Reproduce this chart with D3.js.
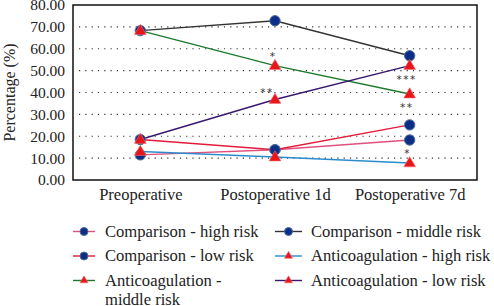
<!DOCTYPE html>
<html><head><meta charset="utf-8">
<script src="https://cdn.jsdelivr.net/npm/d3@7"></script>
<style>body{margin:0;background:#fff}svg{display:block}</style>
</head><body><svg id="c" width="494" height="306"></svg>
<script>
const categories = ["Preoperative", "Postoperative 1d", "Postoperative 7d"];
const yTicks = [0, 10, 20, 30, 40, 50, 60, 70, 80];
const seriesNames = ["Comparison - high risk", "Comparison - middle risk", "Comparison - low risk",
  "Anticoagulation - high risk", "Anticoagulation - middle risk", "Anticoagulation - low risk"];
const compHigh = [11.5, 13.8, 18.3];
const compMiddle = [68.3, 72.8, 56.8];
const compLow = [18.5, 13.8, 25.2];
const antiHigh = [13.0, 10.5, 7.8];
const antiMiddle = [68.3, 52.3, 39.3];
const antiLow = [18.5, 36.8, 52.3];
const annotations = [
  {cat: 1, value: 52.3, text: "*", pos: "above"},
  {cat: 1, value: 36.8, text: "**", pos: "aboveLeft"},
  {cat: 2, value: 52.3, text: "***", pos: "below"},
  {cat: 2, value: 39.3, text: "**", pos: "below"},
  {cat: 2, value: 7.8, text: "*", pos: "above"}
];

const FONT = "'Liberation Serif', 'Times New Roman', serif";
const lineColors = ["#e0507c", "#333333", "#e31b3c", "#2a8ccc", "#1c7a2c", "#3a1870"];
const markers = ["circle", "circle", "circle", "triangle", "triangle", "triangle"];
const data = [compHigh, compMiddle, compLow, antiHigh, antiMiddle, antiLow];

const svg = d3.select("#c");
const L = 73, R = 477, T = 5, B = 180;
const x = d3.scalePoint().domain(categories).range([L, R]).padding(0.5);
const y = d3.scaleLinear().domain([0, 80]).range([B, T]);

// gridlines
svg.append("g").selectAll("line").data(yTicks.filter(t => t > 0 && t < 80)).join("line")
  .attr("x1", L + 6).attr("x2", R - 4).attr("y1", d => y(d)).attr("y2", d => y(d))
  .attr("stroke", "#333").attr("stroke-width", 1.2).attr("stroke-dasharray", "1.2,5.1");

// y axis
const yAxis = svg.append("g").attr("transform", `translate(${L},0)`)
  .call(d3.axisLeft(y).tickValues(yTicks).tickFormat(d3.format(".2f")).tickSize(0).tickPadding(8));
yAxis.attr("font-family", null).attr("font-size", null);
yAxis.select(".domain").remove();
yAxis.selectAll("text").style("font-family", FONT).style("font-size", "15.5px").style("fill", "#222");

// x axis
const xAxis = svg.append("g").attr("transform", `translate(0,${B})`)
  .call(d3.axisBottom(x).tickSize(0).tickPadding(8));
xAxis.attr("font-family", null).attr("font-size", null);
xAxis.select(".domain").remove();
xAxis.selectAll("text").style("font-family", FONT).style("font-size", "16.5px").style("fill", "#222");

// frame
svg.append("rect").attr("x", L).attr("y", T).attr("width", R - L).attr("height", B - T)
  .attr("fill", "none").attr("stroke", "#111").attr("stroke-width", 1.5);

// y title
svg.append("text").attr("transform", `translate(15,${(T + B) / 2}) rotate(-90)`)
  .attr("text-anchor", "middle").style("font-family", FONT).style("font-size", "16px")
  .style("fill", "#222").text("Percentage (%)");

const tri = d3.symbol().type(d3.symbolTriangle);
function drawMarker(g, type, cx, cy, big) {
  if (type === "circle") {
    g.append("circle").attr("cx", cx).attr("cy", cy).attr("r", big ? 5.2 : 4)
      .attr("fill", "#0b2f86").attr("stroke", "#5a6e9a").attr("stroke-width", 1);
  } else {
    g.append("path").attr("d", tri.size(big ? 60 : 28)())
      .attr("transform", `translate(${cx},${cy + (big ? 0.5 : 0)})`)
      .attr("fill", "#e8151b").attr("stroke", "#f07070").attr("stroke-width", 0.6);
  }
}

const line = d3.line().x((d, i) => x(categories[i])).y(d => y(d));
const plot = svg.append("g");
data.forEach((vals, s) => {
  plot.append("path").datum(vals).attr("d", line).attr("fill", "none")
    .attr("stroke", lineColors[s]).attr("stroke-width", 1.4);
});
data.forEach((vals, s) => {
  if (markers[s] === "circle") vals.forEach((v, i) => drawMarker(plot, "circle", x(categories[i]), y(v), true));
});
data.forEach((vals, s) => {
  if (markers[s] === "triangle") vals.forEach((v, i) => drawMarker(plot, "triangle", x(categories[i]), y(v), true));
});

// annotations
annotations.forEach(a => {
  const cx = x(categories[a.cat]), cy = y(a.value);
  let tx = cx, ty = cy;
  if (a.pos === "above") { tx = cx - 2; ty = cy - 6; }
  if (a.pos === "aboveLeft") { tx = cx - 8; ty = cy - 4; }
  if (a.pos === "below") { tx = cx - 3; ty = cy + 17; }
  svg.append("text").attr("x", tx).attr("y", ty).attr("text-anchor", "middle")
    .style("font-family", "'DejaVu Sans', sans-serif").style("font-size", "10.5px")
    .style("letter-spacing", "1.5px").style("fill", "#333").text(a.text);
});

// legend
const legRows = [231.5, 256, 280.5];
const legCols = [{x: 73, len: 22, tx: 105}, {x: 275, len: 27, tx: 311}];
seriesNames.forEach((name, s) => {
  const col = legCols[s % 2], row = Math.floor(s / 2);
  const lx = col.x, ly = legRows[row];
  const g = svg.append("g");
  g.append("line").attr("x1", lx).attr("x2", lx + col.len).attr("y1", ly).attr("y2", ly)
    .attr("stroke", lineColors[s]).attr("stroke-width", 1.4);
  drawMarker(g, markers[s], lx + col.len / 2, ly, false);
  const t = g.append("text").attr("x", col.tx).attr("y", ly + 5)
    .style("font-family", FONT).style("font-size", "16.6px").style("fill", "#222");
  if (name === "Anticoagulation - middle risk") {
    t.append("tspan").attr("x", col.tx).text("Anticoagulation -");
    t.append("tspan").attr("x", col.tx).attr("dy", 19.5).text("middle risk");
  } else t.text(name);
});
</script></body></html>
